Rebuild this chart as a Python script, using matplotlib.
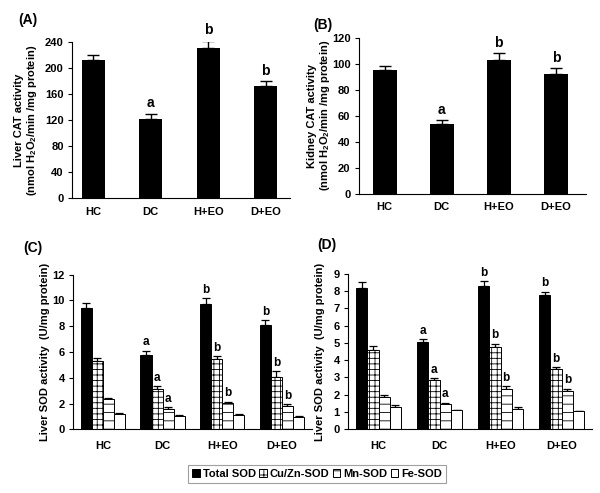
import numpy as np
import matplotlib
matplotlib.use("Agg")
import matplotlib.pyplot as plt
from matplotlib.patches import Patch

plt.rcParams['font.family'] = ['Liberation Sans', 'DejaVu Sans']
plt.rcParams['font.weight'] = 'bold'
plt.rcParams['axes.labelweight'] = 'bold'
plt.rcParams['mathtext.default'] = 'regular'
plt.rcParams['hatch.linewidth'] = 0.6

# Datos
grupos = ['HC', 'DC', 'H+EO', 'D+EO']

cat_higado = [212, 121, 230, 172]
cat_higado_err = [8, 9, 12, 8]
cat_higado_letras = ['', 'a', 'b', 'b']

cat_rinon = [95, 53.5, 103, 92]
cat_rinon_err = [3.5, 3.5, 5.5, 5]
cat_rinon_letras = ['', 'a', 'b', 'b']

series_sod = ['Total SOD', 'Cu/Zn-SOD', 'Mn-SOD', 'Fe-SOD']

# panel C: una lista por serie (HC, DC, H+EO, D+EO)
sod_c = [[9.4, 5.75, 9.7, 8.1],
         [5.3, 3.1, 5.45, 4.1],
         [2.35, 1.55, 2.05, 1.8],
         [1.2, 1.05, 1.15, 1.0]]
sod_c_err = [[0.4, 0.35, 0.45, 0.35],
             [0.25, 0.25, 0.25, 0.4],
             [0.06, 0.2, 0.1, 0.15],
             [0.04, 0.04, 0.04, 0.04]]

# panel D
sod_d = [[8.15, 5.05, 8.3, 7.75],
         [4.6, 2.85, 4.75, 3.5],
         [1.9, 1.45, 2.35, 2.2],
         [1.3, 1.1, 1.2, 1.05]]
sod_d_err = [[0.35, 0.15, 0.25, 0.2],
             [0.2, 0.1, 0.2, 0.1],
             [0.08, 0.1, 0.15, 0.15],
             [0.1, 0.04, 0.1, 0.04]]

sod_letras = [['', 'a', 'b', 'b'],
              ['', 'a', 'b', 'b'],
              ['', 'a', 'b', 'b'],
              ['', '', '', '']]

colores = ['black', 'white', 'white', 'white']
tramas = ['', '+++', '--', '']

fig = plt.figure(figsize=(6, 4.93), dpi=100)


def estilo(ax, ylim, yticks, ylabel, xlab):
    ax.spines['top'].set_visible(False)
    ax.spines['right'].set_visible(False)
    ax.spines['left'].set_linewidth(0.8)
    ax.spines['bottom'].set_linewidth(0.8)
    ax.set_ylim(*ylim)
    ax.set_yticks(yticks)
    ax.set_xticks(range(len(grupos)))
    ax.set_xticklabels(grupos)
    ax.tick_params(axis='y', length=3, width=0.8, labelsize=8, pad=3)
    ax.tick_params(axis='x', length=0, labelsize=8, pad=xlab)
    ax.set_ylabel(ylabel, fontsize=8, fontweight='bold', linespacing=1.1)


def panel_cat(rect, valores, errores, letras, ylim, yticks, ylabel, xlim, ancho, lx):
    ax = fig.add_axes(rect)
    x = np.arange(len(grupos))
    ax.bar(x, valores, width=ancho, color='black', zorder=2)
    ax.errorbar(x, valores, yerr=[np.zeros(len(x)), errores], fmt='none',
                ecolor='black', elinewidth=1, capsize=4, capthick=1, zorder=1)
    paso = ylim[1] * 0.02
    for xi, v, e, t in zip(x, valores, errores, letras):
        if t:
            ax.text(xi, v + e + paso, t, ha='center', va='bottom', fontsize=10)
    ax.set_xlim(*xlim)
    estilo(ax, ylim, yticks, ylabel, 6)
    ax.yaxis.set_label_coords(lx, 0.5)
    return ax


def panel_sod(rect, valores, errores, ylim, yticks, lx):
    ax = fig.add_axes(rect)
    x = np.arange(len(grupos))
    ancho = 0.185
    for i in range(len(series_sod)):
        pos = x + (i - 1.5) * ancho
        ax.bar(pos, valores[i], width=ancho, color=colores[i], edgecolor='black',
               linewidth=0.7, hatch=tramas[i], zorder=2)
        ax.errorbar(pos, valores[i], yerr=[np.zeros(len(x)), errores[i]], fmt='none',
                    ecolor='black', elinewidth=0.9, capsize=3, capthick=0.9, zorder=1)
        for p, v, e, t in zip(pos, valores[i], errores[i], sod_letras[i]):
            if t:
                ax.text(p, v + e + ylim[1] * 0.015, t, ha='center', va='bottom', fontsize=8.5)
    ax.set_xlim(-0.5, 3.5)
    estilo(ax, ylim, yticks, 'Liver SOD activity  (U/mg protein)', 8)
    ax.yaxis.set_label_coords(lx, 0.5)
    return ax


panel_cat([0.12, 0.598, 0.363, 0.317], cat_higado, cat_higado_err, cat_higado_letras,
          (0, 240), range(0, 241, 40),
          'Liver CAT activity\n(nmol H$_2$O$_2$/min /mg protein)', (-0.37, 3.42), 0.4, -0.15)
panel_cat([0.598, 0.6065, 0.378, 0.317], cat_rinon, cat_rinon_err, cat_rinon_letras,
          (0, 120), range(0, 121, 20),
          'Kidney CAT activity\n(nmol H$_2$O$_2$/min /mg protein)', (-0.45, 3.52), 0.42, -0.12)
panel_sod([0.1217, 0.129, 0.398, 0.314], sod_c, sod_c_err, (0, 12), range(0, 13, 2), -0.096)
panel_sod([0.58, 0.129, 0.407, 0.316], sod_d, sod_d_err, (0, 9), range(0, 10), -0.094)

fig.text(18 / 600, 1 - 20 / 493, '(A)', fontsize=10, ha='left', va='center')
fig.text(313 / 600, 1 - 25 / 493, '(B)', fontsize=10, ha='left', va='center')
fig.text(23 / 600, 1 - 248 / 493, '(C)', fontsize=10, ha='left', va='center')
fig.text(317 / 600, 1 - 245 / 493, '(D)', fontsize=10, ha='left', va='center')

manijas = [Patch(facecolor=colores[i], edgecolor='black', linewidth=0.7, hatch=tramas[i])
           for i in range(len(series_sod))]
leg = fig.legend(manijas, series_sod, loc='center', bbox_to_anchor=(317 / 600, 1 - 474 / 493),
                 ncol=4, fontsize=8, frameon=True, fancybox=False, handlelength=0.7,
                 handleheight=0.7, handletextpad=0.25, columnspacing=0.3,
                 borderpad=0.4, borderaxespad=0)
leg.get_frame().set_edgecolor('#888888')
leg.get_frame().set_linewidth(0.8)

fig.savefig('out.png', dpi=100)
